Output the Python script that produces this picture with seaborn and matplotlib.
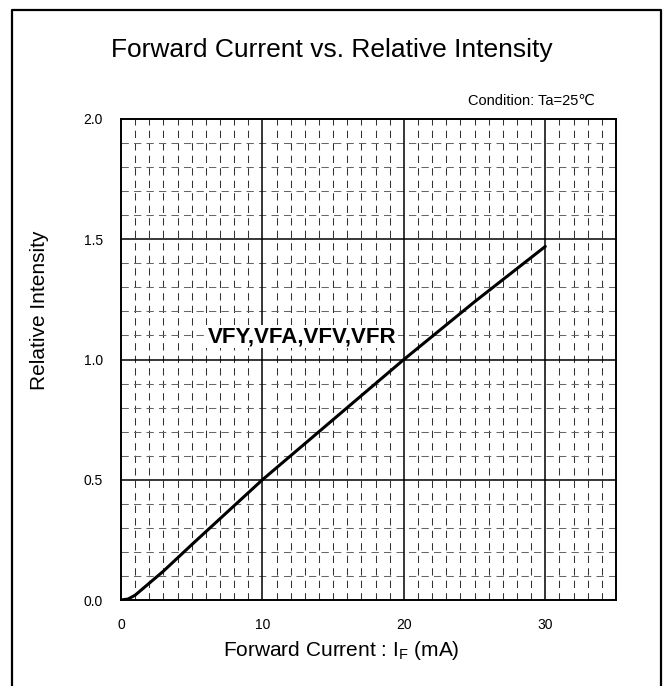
import matplotlib
matplotlib.use("Agg")
import matplotlib.pyplot as plt
import seaborn as sns
import numpy as np
import pandas as pd
from matplotlib.lines import Line2D

current_ma = [0, 0.5, 1, 1.5, 2, 3, 5, 10, 15, 20, 25, 30]
rel_intensity = [0, 0.004, 0.02, 0.045, 0.07, 0.12, 0.23, 0.5, 0.75, 1.0, 1.24, 1.47]
x_ticks = [0, 10, 20, 30]
y_ticks = [0.0, 0.5, 1.0, 1.5, 2.0]

sns.set_theme(style="white")
plt.rcParams['font.family'] = ['Liberation Sans', 'DejaVu Sans']

fig = plt.figure(figsize=(6.65, 6.86), dpi=100)
ax = fig.add_axes([121/665, 1-600/686, (616-121)/665, (600-119)/686])

# minor grid
for xv in range(1, 35):
    if xv % 10 == 0:
        continue
    ax.axvline(xv, color='#333333', lw=0.75, ls=(0, (7, 5)), zorder=1)
for k in range(1, 20):
    if k % 5 == 0:
        continue
    ax.axhline(k / 10, color='#666666', lw=0.75, ls=(0, (7, 5)), zorder=1)
# major grid
for xv in [10, 20, 30]:
    ax.axvline(xv, color='black', lw=1.1, zorder=2)
for yv in [0.5, 1.0, 1.5]:
    ax.axhline(yv, color='black', lw=1.1, zorder=2)

df = pd.DataFrame({"I": current_ma, "R": rel_intensity})
sns.lineplot(data=df, x="I", y="R", ax=ax, color='black', lw=2.2, zorder=5)

ax.set_xlim(0, 35)
ax.set_ylim(0, 2.0)
ax.set_xticks(x_ticks)
ax.set_yticks(y_ticks)
ax.set_yticklabels([f"{v:.1f}" for v in y_ticks])
ax.tick_params(axis='both', labelsize=10, length=0, pad=13, colors='black')
for s in ax.spines.values():
    s.set_color('black')
    s.set_linewidth(1.4)
    s.set_zorder(6)
ax.set_xlabel("")
ax.set_ylabel("")

fig.text(341/665, 1-651/686, r"Forward Current : I$_\mathregular{F}$ (mA)", fontsize=15,
         ha='center', va='center', color='black')
fig.text(40/665, 1-310/686, "Relative Intensity", fontsize=15, rotation=90,
         ha='center', va='center', color='black')

ax.text(12.8, 1.095, "VFY,VFA,VFV,VFR", fontsize=16, fontweight='bold', ha='center', va='center',
        color='black', zorder=7, bbox=dict(facecolor='white', edgecolor='none', pad=1))

fig.text(332/665, 1-50/686, "Forward Current vs. Relative Intensity", fontsize=19,
         ha='center', va='center', color='black')
fig.text(595/665, 1-101/686, "Condition: Ta=25\u2103", fontsize=10.5, ha='right', va='center', color='black')

# outer frame (bottom edge lies below the image)
xl, xr, yt, yb = 12/665, 661/665, 1-10/686, -0.05
fig.lines.append(Line2D([xl, xl, xr, xr], [yb, yt, yt, yb], transform=fig.transFigure,
                        color='black', lw=1.6))

fig.savefig("out.png", dpi=100)
